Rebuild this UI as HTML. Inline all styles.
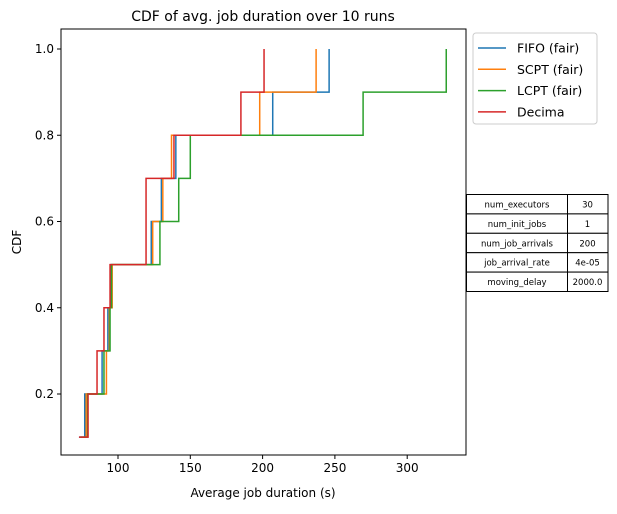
<!DOCTYPE html>
<html><head><meta charset="utf-8"><style>
body{margin:0;background:#fff;font-family:"Liberation Sans","DejaVu Sans",sans-serif}
svg text{font-family:"DejaVu Sans","Liberation Sans",sans-serif}
</style></head><body>
<svg id="chart" width="617" height="509" xmlns="http://www.w3.org/2000/svg">
<text x="263" y="21" text-anchor="middle" font-size="14">CDF of avg. job duration over 10 runs</text>
<g id="marks"></g>
<rect x="61" y="29" width="405" height="426" fill="none" stroke="#000" stroke-width="1"/>
<g id="xticks"></g><g id="yticks"></g>
<text x="263" y="497" text-anchor="middle" font-size="12">Average job duration (s)</text>
<text transform="translate(21,242) rotate(-90)" text-anchor="middle" font-size="12">CDF</text>
<g>
<rect x="473" y="33" width="124" height="91" rx="3" fill="#fff" stroke="#ccc"/>
<g id="legend-items"></g>
</g>
<g id="table"></g>
</svg>
<script>
const levels=[0.1,0.2,0.3,0.4,0.5,0.6,0.7,0.8,0.9,1.0];
const fifo=[73,77,89,93,95,123,130,140,207,246];
const scpt=[74,78,92,94,96,124,131,137,198,237];
const lcpt=[74,79,90.3,94.5,95.5,129,142,150,269.5,327];
const decima=[73,79.3,85.5,90.3,94.5,119.4,119.4,138.7,185,201];
const seriesNames=["FIFO (fair)","SCPT (fair)","LCPT (fair)","Decima"];
const xTicks=[100,150,200,250,300];
const yTicks=[0.2,0.4,0.6,0.8,1.0];
const tableKeys=["num_executors","num_init_jobs","num_job_arrivals","job_arrival_rate","moving_delay"];
const tableVals=["30","1","200","4e-05","2000.0"];
const colors=["#1f77b4","#ff7f0e","#2ca02c","#d62728"];
const series=[fifo,scpt,lcpt,decima];
const X=v=>118+(v-100)*1.446;
const Y=v=>394-(v-0.2)*431.25;
const NS="http://www.w3.org/2000/svg";
function mk(t,a,p){const e=document.createElementNS(NS,t);for(const k in a)e.setAttribute(k,a[k]);p.appendChild(e);return e;}
const marks=document.getElementById('marks');
series.forEach((s,i)=>{let d=`M${X(s[0])},${Y(levels[0])}`;
for(let j=1;j<s.length;j++){d+=` H${X(s[j])} V${Y(levels[j])}`;}
const p=mk('path',{d:d,fill:'none',stroke:colors[i],'stroke-width':1.5},marks);

});
const xt=document.getElementById('xticks');
xTicks.forEach(v=>{const g=mk('g',{},xt);


mk('line',{x1:X(v),x2:X(v),y1:455,y2:459,stroke:'#000'},g);
const t=mk('text',{x:X(v),y:472,'text-anchor':'middle','font-size':12},g);t.textContent=v;});
const yt=document.getElementById('yticks');
yTicks.forEach(v=>{const g=mk('g',{},yt);


mk('line',{x1:57,x2:61,y1:Y(v),y2:Y(v),stroke:'#000'},g);
const t=mk('text',{x:54,y:Y(v)+4,'text-anchor':'end','font-size':12},g);t.textContent=v.toFixed(1);});
const li=document.getElementById('legend-items');
seriesNames.forEach((n,i)=>{const y=48+i*21.3;const g=mk('g',{},li);


mk('line',{x1:478,x2:506,y1:y,y2:y,stroke:colors[i],'stroke-width':1.5},g);
const t=mk('text',{x:517,y:y+4.5,'font-size':12.5},g);t.textContent=n;});
const tb=document.getElementById('table');
tableKeys.forEach((k,i)=>{const y=194.5+i*19.4;const g=mk('g',{},tb);


mk('rect',{x:466.5,y:y,width:101,height:19.4,fill:'#fff',stroke:'#000'},g);
mk('rect',{x:567.5,y:y,width:40.5,height:19.4,fill:'#fff',stroke:'#000'},g);
let t=mk('text',{x:517,y:y+13,'text-anchor':'middle','font-size':8.5},g);t.textContent=k;
t=mk('text',{x:587.5,y:y+13,'text-anchor':'middle','font-size':8.5},g);t.textContent=tableVals[i];});
</script>
</body></html>
